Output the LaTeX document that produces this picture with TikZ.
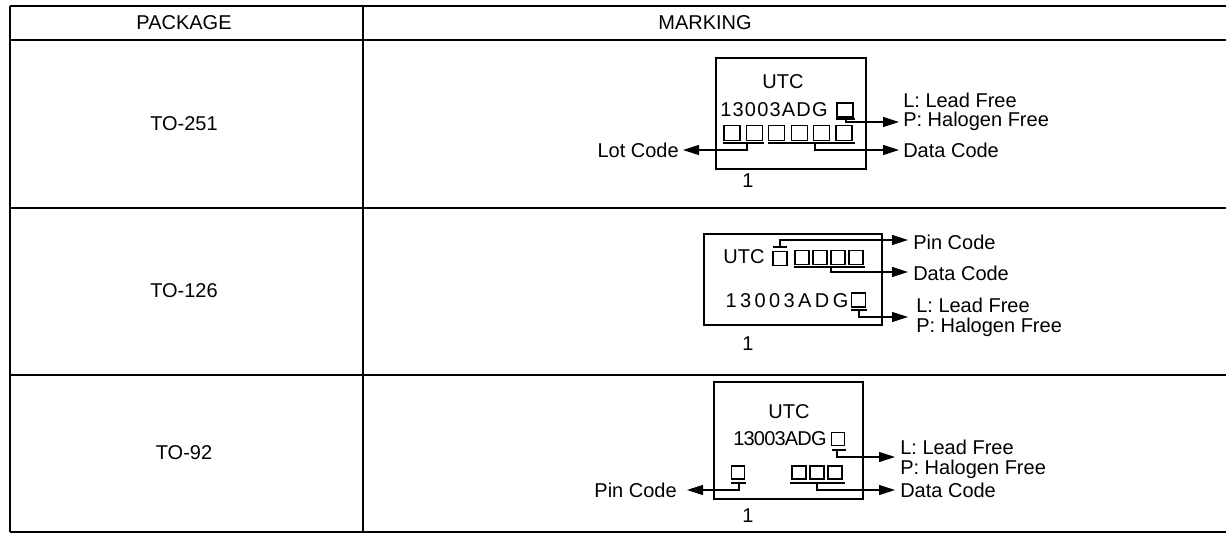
\documentclass[tikz,border=0pt]{standalone}
\usepackage{fontspec}
\setmainfont{Liberation Sans}
\usetikzlibrary{arrows.meta}
\begin{document}
\begin{tikzpicture}[x=0.75pt,y=-0.75pt,
  txt/.style={font=\fontsize{15}{17}\selectfont, inner sep=0pt},
  pair/.style={font=\fontsize{15}{#1}\selectfont, inner sep=0pt, align=left, anchor=west},
  grid/.style={line width=1.5pt},
  thingrid/.style={line width=0.9pt},
  chip/.style={draw, line width=0.9pt, inner sep=0pt},
  sq/.style={draw, line width=0.8pt, inner sep=0pt},
  lead/.style={line width=0.8pt},
  arr/.style={line width=0.8pt, -{Triangle[length=12pt,width=7.5pt]}}]
\useasboundingbox (0,0) rectangle (1226,534);
% table
\draw[line width=1.8pt] (10,6) -- (1226,6);
\draw[line width=1.8pt] (10,40) -- (1226,40);
\draw[grid] (10,208) -- (1226,208);
\draw[grid] (10,375) -- (1226,375);
\draw[grid] (10,532) -- (1226,532);
\draw[grid] (10,6) -- (10,532);
\draw[thingrid] (363,6) -- (363,532);
\node[txt] (hp) at (184,23) {PACKAGE};
\node[txt] (hm) at (705,23) {MARKING};
\node[txt] (p1) at (184,124) {TO-251};
\node[txt] (p2) at (184,291) {TO-126};
\node[txt] (p3) at (184,453) {TO-92};

% ---------- TO-251 ----------
\node[chip, minimum width=112.5pt, minimum height=83.25pt] (c1) at (791,113.5) {};
\node[txt] (c1a) at (783,82) {UTC};
\node[txt] (c1b) at (774,110) {\addfontfeature{LetterSpace=6}13003ADG};
\node[sq, minimum width=12pt, minimum height=10.5pt] (c1s) at (845,110) {};
\foreach \i/\xx in {1/732,2/754.4,3/776.8,4/799.2,5/821.6,6/844}
  \node[sq, minimum width=12pt, minimum height=11.25pt] (c1d\i) at (\xx,133) {};
\node[txt] (c1one) at (748,181) {1};
\node[txt, anchor=east] (c1lot) at (679,150) {Lot Code};
\node[pair=14.25pt] (c1lp) at (903,111.5) {L: Lead Free\\P: Halogen Free};
\node[txt, anchor=west] (c1dc) at (903,150) {Data Code};
\coordinate (c1su1) at (836,119); \coordinate (c1su2) at (855,119);
\coordinate (c1sj) at (846,119); \coordinate (c1st) at (899,122);
\draw[lead] (c1su1) -- (c1su2);
\draw[arr] (c1sj) |- (c1st);
\coordinate (c1g1a) at (723,143); \coordinate (c1g1b) at (764,143);
\coordinate (c1g1j) at (747,143); \coordinate (c1g1t) at (683,150);
\draw[lead] (c1g1a) -- (c1g1b);
\draw[arr] (c1g1j) |- (c1g1t);
\coordinate (c1g2a) at (768,143); \coordinate (c1g2b) at (855,143);
\coordinate (c1g2j) at (815,143); \coordinate (c1g2t) at (899,150);
\draw[lead] (c1g2a) -- (c1g2b);
\draw[arr] (c1g2j) |- (c1g2t);

% ---------- TO-126 ----------
\node[chip, minimum width=133.5pt, minimum height=68.25pt] (c2) at (793,279.5) {};
\node[txt] (c2a) at (744,257) {UTC};
\node[sq, minimum width=10.5pt, minimum height=10.5pt] (c2s) at (780,258.5) {};
\foreach \i/\xx in {1/802,2/820,3/838,4/856}
  \node[sq, minimum width=10.5pt, minimum height=11pt] (c2d\i) at (\xx,257.5) {};
\node[txt] (c2b) at (787,301) {\addfontfeature{LetterSpace=17}13003ADG};
\node[sq, minimum width=10pt, minimum height=10.5pt] (c2t) at (858.5,300) {};
\node[txt] (c2one) at (748,344) {1};
\node[txt, anchor=west] (c2pin) at (913,242) {Pin Code};
\node[txt, anchor=west] (c2dc) at (913,273) {Data Code};
\node[pair=15pt] (c2lp) at (916,317) {L: Lead Free\\P: Halogen Free};
\coordinate (c2o1) at (773,247); \coordinate (c2o2) at (787,247);
\coordinate (c2oj) at (780,247); \coordinate (c2ot) at (908,240);
\draw[lead] (c2o1) -- (c2o2);
\draw[arr] (c2oj) |- (c2ot);
\coordinate (c2u1) at (794,267); \coordinate (c2u2) at (865,267);
\coordinate (c2uj) at (831,267); \coordinate (c2ut) at (908,272);
\draw[lead] (c2u1) -- (c2u2);
\draw[arr] (c2uj) |- (c2ut);
\coordinate (c2v1) at (851,310); \coordinate (c2v2) at (867,310);
\coordinate (c2vj) at (859,310); \coordinate (c2vt) at (908,317);
\draw[lead] (c2v1) -- (c2v2);
\draw[arr] (c2vj) |- (c2vt);

% ---------- TO-92 ----------
\node[chip, minimum width=111.75pt, minimum height=87.75pt] (c3) at (788.5,440.5) {};
\node[txt] (c3a) at (789,412) {UTC};
\node[txt] (c3b) at (780,439) {\addfontfeature{LetterSpace=-4}13003ADG};
\node[sq, minimum width=9.75pt, minimum height=9.75pt] (c3s) at (838,439) {};
\node[sq, minimum width=9.75pt, minimum height=9.75pt] (c3p) at (738,472.5) {};
\foreach \i/\xx in {1/799,2/817,3/835}
  \node[sq, minimum width=10.5pt, minimum height=9.75pt] (c3d\i) at (\xx,472.5) {};
\node[txt] (c3one) at (748,516) {1};
\node[txt, anchor=east] (c3pin) at (677,490) {Pin Code};
\node[pair=15pt] (c3lp) at (900,459) {L: Lead Free\\P: Halogen Free};
\node[txt, anchor=west] (c3dc) at (900,490) {Data Code};
\coordinate (c3s1) at (832,450); \coordinate (c3s2) at (846,450);
\coordinate (c3sj) at (837,450); \coordinate (c3st) at (895,457);
\draw[lead] (c3s1) -- (c3s2);
\draw[arr] (c3sj) |- (c3st);
\coordinate (c3p1) at (731,483); \coordinate (c3p2) at (746,483);
\coordinate (c3pj) at (739,483); \coordinate (c3pt) at (687,490);
\draw[lead] (c3p1) -- (c3p2);
\draw[arr] (c3pj) |- (c3pt);
\coordinate (c3d1a) at (790,483); \coordinate (c3d1b) at (845,483);
\coordinate (c3dj) at (817,483); \coordinate (c3dt) at (895,490);
\draw[lead] (c3d1a) -- (c3d1b);
\draw[arr] (c3dj) |- (c3dt);
\end{tikzpicture}
\end{document}
